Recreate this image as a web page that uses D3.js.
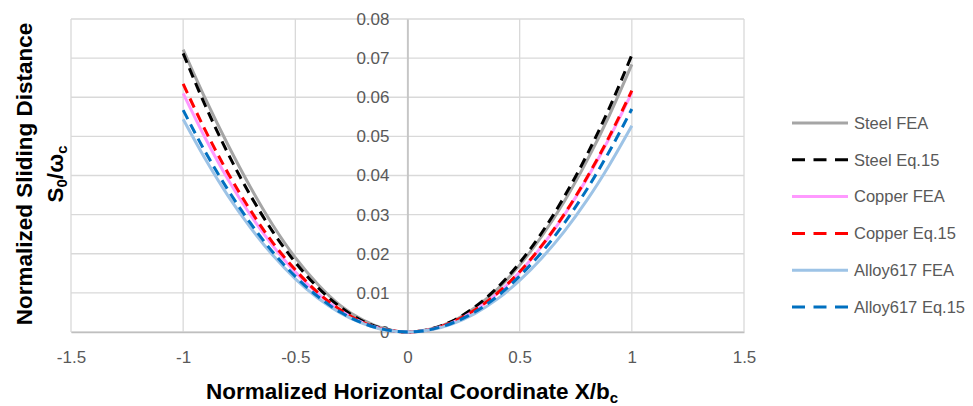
<!doctype html>
<html>
<head>
<meta charset="utf-8">
<style>
  body { margin: 0; background: #fff; }
  svg { display: block; }
  .tick text { fill: #595959; font-family: "Liberation Sans", Arial, sans-serif; font-size: 17px; }
  .legend text { fill: #595959; font-family: "Liberation Sans", Arial, sans-serif; font-size: 16.5px; }
  .title { font-family: "Liberation Sans", Arial, sans-serif; font-weight: bold; font-size: 22.5px; fill: #000; }
</style>
<script src="https://d3js.org/d3.v7.min.js"></script>
</head>
<body>
<svg width="973" height="406"></svg>
<script>
// x positions (X/bc) shared by every series
var xs = [-1, -0.9, -0.8, -0.7, -0.6, -0.5, -0.4, -0.3, -0.2, -0.1, 0,
          0.1, 0.2, 0.3, 0.4, 0.5, 0.6, 0.7, 0.8, 0.9, 1];

var steelFEA = [0.0722, 0.0595, 0.0478, 0.0370, 0.0273, 0.0190, 0.0122, 0.0068, 0.0031, 0.0008, 0,
                0.0007, 0.0027, 0.0062, 0.0109, 0.0171, 0.0246, 0.0335, 0.0438, 0.0554, 0.0684];
var steelEq = [0.0712, 0.0577, 0.0456, 0.0349, 0.0256, 0.0178, 0.0114, 0.0064, 0.0028, 0.0007, 0,
               0.0007, 0.0028, 0.0064, 0.0113, 0.0177, 0.0255, 0.0347, 0.0453, 0.0573, 0.0708];
var copperFEA = [0.0610, 0.0494, 0.0390, 0.0299, 0.0220, 0.0153, 0.0098, 0.0055, 0.0024, 0.0006, 0,
                 0.0006, 0.0024, 0.0055, 0.0098, 0.0153, 0.0220, 0.0300, 0.0392, 0.0496, 0.0612];
var copperEq = [0.0634, 0.0514, 0.0406, 0.0311, 0.0228, 0.0159, 0.0101, 0.0057, 0.0025, 0.0006, 0,
                0.0006, 0.0025, 0.0056, 0.0099, 0.0154, 0.0222, 0.0302, 0.0395, 0.0500, 0.0617];
var alloyFEA = [0.0544, 0.0441, 0.0348, 0.0267, 0.0196, 0.0136, 0.0087, 0.0049, 0.0022, 0.0005, 0,
                0.0005, 0.0021, 0.0047, 0.0084, 0.0132, 0.0190, 0.0258, 0.0337, 0.0427, 0.0527];
var alloyEq = [0.0567, 0.0459, 0.0363, 0.0278, 0.0204, 0.0142, 0.0091, 0.0051, 0.0023, 0.0006, 0,
               0.0006, 0.0023, 0.0051, 0.0091, 0.0143, 0.0205, 0.0279, 0.0365, 0.0462, 0.0570];

var seriesNames = ["Steel FEA", "Steel Eq.15", "Copper FEA", "Copper Eq.15", "Alloy617 FEA", "Alloy617 Eq.15"];
var seriesValues = [steelFEA, steelEq, copperFEA, copperEq, alloyFEA, alloyEq];
var seriesColors = ["#a5a5a5", "#000000", "#ff99ff", "#ff0000", "#9dc3e6", "#0070c0"];
var seriesDashed = [false, true, false, true, false, true];

var xTicks = [-1.5, -1, -0.5, 0, 0.5, 1, 1.5];
var yTicks = [0, 0.01, 0.02, 0.03, 0.04, 0.05, 0.06, 0.07, 0.08];

var svg = d3.select("svg");
var plotLeft = 71, plotRight = 744, plotTop = 19, plotBottom = 332;

var x = d3.scaleLinear().domain([-1.5, 1.5]).range([plotLeft, plotRight]);
var y = d3.scaleLinear().domain([0, 0.08]).range([plotBottom, plotTop]);

// horizontal gridlines
svg.append("g")
   .selectAll("line").data(yTicks).enter().append("line")
   .attr("x1", plotLeft).attr("x2", plotRight)
   .attr("y1", function(d) { return y(d); }).attr("y2", function(d) { return y(d); })
   .attr("stroke", "#d9d9d9").attr("stroke-width", 1.3);

// vertical gridlines
svg.append("g")
   .selectAll("line").data(xTicks).enter().append("line")
   .attr("x1", function(d) { return x(d); }).attr("x2", function(d) { return x(d); })
   .attr("y1", plotTop).attr("y2", plotBottom)
   .attr("stroke", "#d9d9d9").attr("stroke-width", 1.3);

// x axis at the bottom
var gx = svg.append("g")
   .attr("transform", "translate(0," + plotBottom + ")")
   .call(d3.axisBottom(x).tickValues(xTicks).tickSize(0).tickPadding(19).tickFormat(function(d) { return d; }));
gx.select(".domain").attr("stroke", "#bfbfbf").attr("stroke-width", 1.5);

// y axis crossing at x = 0
var gy = svg.append("g")
   .attr("transform", "translate(" + x(0) + ",0)")
   .call(d3.axisLeft(y).tickValues(yTicks).tickSize(0).tickPadding(18)
         .tickFormat(function(d) { return d === 0 ? "0" : d3.format(".2f")(d); }));
gy.select(".domain").attr("stroke", "#bfbfbf").attr("stroke-width", 1.5);

// series lines
var line = d3.line()
   .x(function(d, i) { return x(xs[i]); })
   .y(function(d) { return y(d); })
   .curve(d3.curveMonotoneX);

seriesValues.forEach(function(vals, k) {
    svg.append("path")
       .attr("d", line(vals))
       .attr("fill", "none")
       .attr("stroke", seriesColors[k])
       .attr("stroke-width", 3)
       .attr("stroke-dasharray", seriesDashed[k] ? "10,6" : null);
});

// legend
var legend = svg.append("g").attr("class", "legend");
seriesNames.forEach(function(name, k) {
    var ly = 123 + k * 36.8;
    legend.append("line")
          .attr("x1", 792).attr("x2", 848).attr("y1", ly).attr("y2", ly)
          .attr("stroke", seriesColors[k]).attr("stroke-width", 3)
          .attr("stroke-dasharray", seriesDashed[k] ? "13,8.5" : null);
    legend.append("text")
          .attr("x", 854).attr("y", ly).attr("dy", "0.35em")
          .text(name);
});

// x title
var xt = svg.append("text").attr("class", "title")
   .attr("x", 412).attr("y", 399).attr("text-anchor", "middle");
xt.append("tspan").text("Normalized Horizontal Coordinate X/b");
xt.append("tspan").attr("font-size", "15px").attr("dy", 4).text("c");

// y title, two lines
var yt = svg.append("g").attr("transform", "translate(0,174) rotate(-90)");
yt.append("text").attr("class", "title")
  .attr("x", 0).attr("y", 32).attr("text-anchor", "middle")
  .text("Normalized Sliding Distance");
var yt2 = yt.append("text").attr("class", "title")
  .attr("x", 0).attr("y", 63).attr("text-anchor", "middle");
yt2.append("tspan").text("S");
yt2.append("tspan").attr("font-size", "15px").attr("dy", 4).text("0");
yt2.append("tspan").attr("dy", -4).text("/ω");
yt2.append("tspan").attr("font-size", "15px").attr("dy", 4).text("c");
</script>
</body>
</html>
